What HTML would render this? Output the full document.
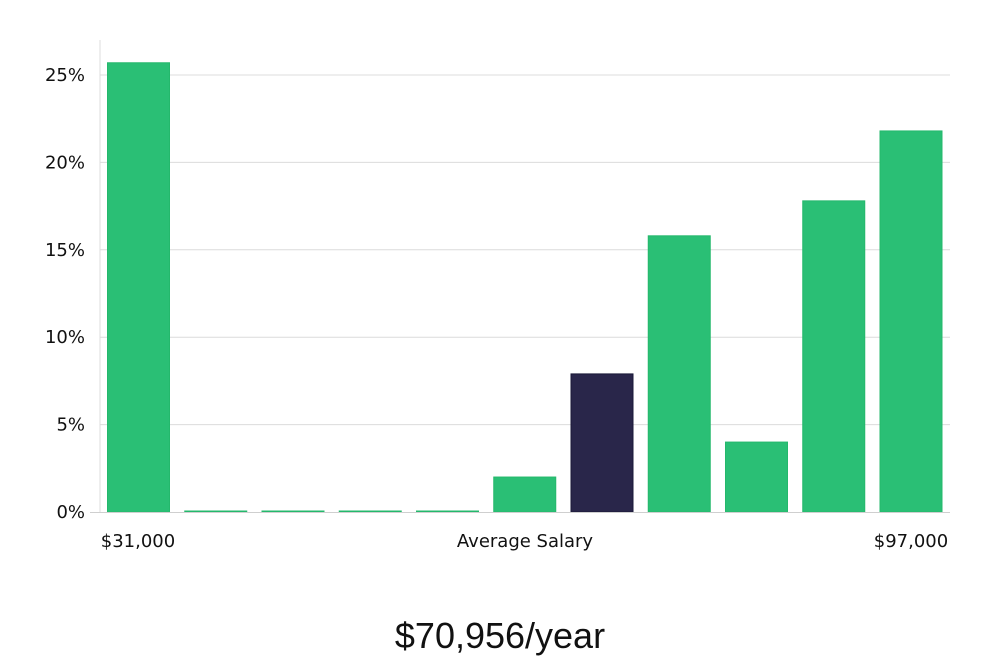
<!DOCTYPE html>
<html><head><meta charset="utf-8"><style>
body{margin:0;background:#fff;width:1000px;height:660px;overflow:hidden;font-family:"DejaVu Sans","Liberation Sans",sans-serif}
</style></head><body>
<svg width="1000" height="660" id="chart">
<text x="500" y="648" text-anchor="middle" font-size="36" fill="#111" font-family="'Liberation Sans',sans-serif">$70,956/year</text>
<text x="138" y="547" text-anchor="middle" font-size="18" fill="#111">$31,000</text>
<text x="525" y="547" text-anchor="middle" font-size="18" fill="#111">Average Salary</text>
<text x="911" y="547" text-anchor="middle" font-size="18" fill="#111">$97,000</text>
</svg>
<script>
const categories=["b1","b2","b3","b4","b5","b6","b7","b8","b9","b10","b11"];
const values=[25.7,0,0,0,0,2.0,7.9,15.8,4.0,17.8,21.8];
const highlight=[0,0,0,0,0,0,1,0,0,0,0];
const yTicks=[0,5,10,15,20,25];
const svg=document.getElementById('chart');
const NS='http://www.w3.org/2000/svg';
const y=v=>512-v*17.48;
const xc=i=>138.5+i*77.25;
function mk(t,a){const e=document.createElementNS(NS,t);for(const k in a)e.setAttribute(k,a[k]);svg.appendChild(e);return e;}
yTicks.forEach(t=>{
  if(t>0){const g=mk('line',{x1:100,x2:950,y1:y(t),y2:y(t),stroke:'#dcdcdc','stroke-width':1});
  
  }
  const l=mk('text',{x:85,y:y(t)+6,'text-anchor':'end','font-size':18,fill:'#111'});
  l.textContent=t+'%';
  
  
});
const ax=mk('line',{x1:100,x2:100,y1:40,y2:512,stroke:'#dcdcdc','stroke-width':1});


values.forEach((v,i)=>{
  const h=Math.max(512-y(v),1);
  const hl=highlight[i];
  const r=mk('rect',{x:xc(i)-31,y:512-h,width:62,height:h,fill:hl?'#29264a':'#2abf75',stroke:hl?'#1a1838':'#24b86c','stroke-width':1});
  
  
});
const xa=mk('line',{x1:90,x2:950,y1:512.5,y2:512.5,stroke:'#cfcfcf','stroke-width':1});


</script>
</body></html>
